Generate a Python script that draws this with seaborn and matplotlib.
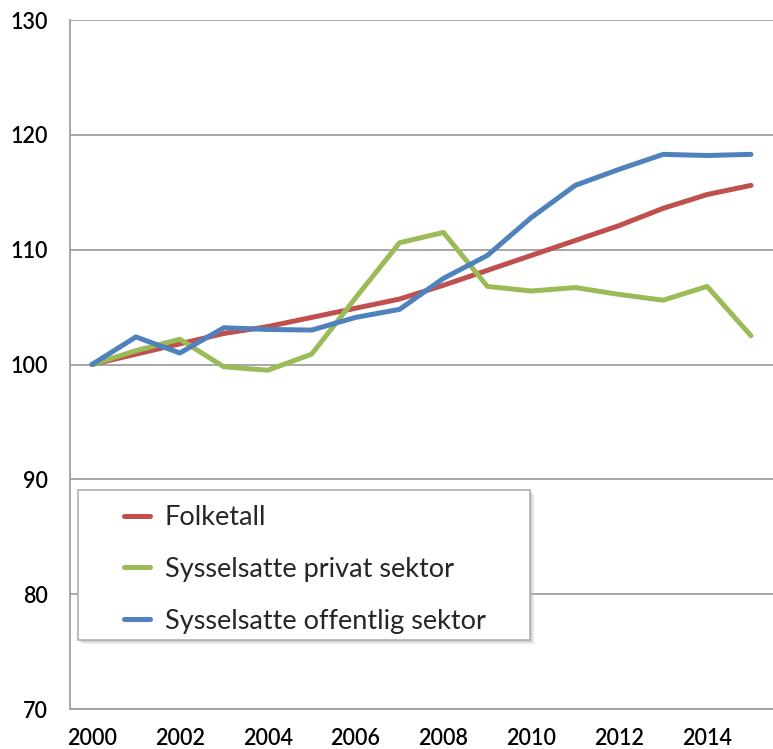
import matplotlib
matplotlib.use("Agg")
import matplotlib.pyplot as plt
from matplotlib.patches import Rectangle
import seaborn as sns
import pandas as pd

years = list(range(2000, 2016))
folketall = [100.0, 100.9, 101.8, 102.7, 103.3, 104.1, 104.9, 105.7, 106.9, 108.2,
             109.5, 110.8, 112.1, 113.6, 114.8, 115.6]
privat = [100.0, 101.2, 102.2, 99.8, 99.5, 100.9, 105.8, 110.6, 111.5, 106.8,
          106.4, 106.7, 106.1, 105.6, 106.8, 102.5]
offentlig = [100.0, 102.4, 101.0, 103.2, 103.05, 103.0, 104.1, 104.8, 107.5, 109.5,
             112.8, 115.6, 117.0, 118.3, 118.2, 118.3]
series_names = ["Folketall", "Sysselsatte privat sektor", "Sysselsatte offentlig sektor"]
colors = ["#C0504D", "#9BBB59", "#4F81BD"]
y_ticks = [70, 80, 90, 100, 110, 120, 130]
x_labels = [2000, 2002, 2004, 2006, 2008, 2010, 2012, 2014]

df = pd.DataFrame({"year": years * 3,
                   "value": folketall + privat + offentlig,
                   "series": sum([[n] * len(years) for n in series_names], [])})

sns.set_style("white")
plt.rcParams["font.family"] = ["Lato", "DejaVu Sans"]

W, H = 773, 749
fig = plt.figure(figsize=(W / 100, H / 100), dpi=100)
ax = fig.add_axes([70 / W, 1 - 709 / H, 1 - 70 / W, 689 / H])

sns.lineplot(data=df, x="year", y="value", hue="series", hue_order=series_names,
             palette=colors, linewidth=3.6, ax=ax, legend=True,
             solid_capstyle="round", solid_joinstyle="round")

ax.set_xlim(1999.5, 2015.5)
ax.set_ylim(70, 130)
ax.set_yticks(y_ticks)
ax.set_yticklabels([str(t) for t in y_ticks])
ax.set_xticks(x_labels)
ax.set_xticklabels([str(t) for t in x_labels])
ax.set_xticks([1999.5 + 2 * i for i in range(9)], minor=True)
ax.tick_params(axis="x", which="major", length=0, pad=14, labelsize=15.5, labelcolor="black")
ax.tick_params(axis="x", which="minor", length=7, width=1.2, color="#A0A0A0", direction="out")
ax.tick_params(axis="y", length=8, width=1.2, color="#A0A0A0", direction="out",
               labelsize=15.5, pad=8, labelcolor="black")
for lab in ax.get_xticklabels() + ax.get_yticklabels():
    lab.set_fontweight("semibold")

ax.set_xlabel("")
ax.set_ylabel("")
ax.grid(axis="y", color="#A0A0A0", linewidth=1.3)
ax.grid(axis="x", visible=False)
ax.set_axisbelow(True)
for s in ["top", "right"]:
    ax.spines[s].set_visible(False)
for s in ["left", "bottom"]:
    ax.spines[s].set_color("#A0A0A0")
    ax.spines[s].set_linewidth(1.3)

# legend box (frame + soft shadow), drawn inside the axes below the legend
bx0, by0, bx1, by1 = 78, 490, 530, 640
for off, col, al in [(4, "0.75", 0.35), (2, "0.6", 0.35)]:
    r = Rectangle(((bx0 + off) / W, 1 - (by1 + off) / H), (bx1 - bx0) / W, (by1 - by0) / H,
                  transform=fig.transFigure, facecolor=col, edgecolor="none",
                  alpha=al, zorder=4, clip_on=False)
    ax.add_artist(r)
ax.add_artist(Rectangle((bx0 / W, 1 - by1 / H), (bx1 - bx0) / W, (by1 - by0) / H,
                        transform=fig.transFigure, facecolor="white", edgecolor="#B0B0B0",
                        linewidth=1.2, zorder=4.5, clip_on=False))

handles, labels = ax.get_legend_handles_labels()
leg = ax.legend(handles, labels, loc="upper left",
                bbox_to_anchor=(124 / W, 1 - 505 / H), bbox_transform=fig.transFigure,
                fontsize=19.5, frameon=False,
                handlelength=0.95, handletextpad=0.55, labelspacing=0.99,
                borderpad=0, borderaxespad=0)
leg.set_zorder(6)
for line in leg.get_lines():
    line.set_linewidth(3.6)

fig.savefig("out.png", dpi=100)
